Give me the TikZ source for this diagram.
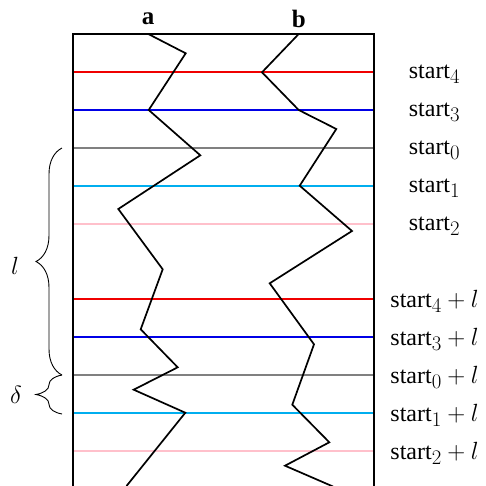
\documentclass[tikz,border=0pt]{standalone}
\usepackage{fontspec}
\setmainfont{Liberation Serif}
\usetikzlibrary{decorations.pathreplacing}
\definecolor{skyc}{RGB}{0,174,239}
\definecolor{pinkc}{RGB}{255,192,203}
\definecolor{grayc}{RGB}{128,128,128}
\definecolor{bluec}{RGB}{0,0,230}
\definecolor{redc}{RGB}{240,0,0}
\newcommand{\bigmath}[1]{{\fontsize{31}{34}\selectfont$#1$}}
\tikzset{
  frame/.style={line width=1.8pt, black},
  hline/.style={line width=1.8pt},
  walk/.style={line width=1.7pt, black, line join=miter},
  lab/.style={font=\fontsize{24}{28}\selectfont, inner sep=0pt},
  brc/.style={decorate, decoration={brace, amplitude=26pt}, line width=0.9pt},
}
\begin{document}
\begin{tikzpicture}[x=1pt,y=-1pt]
\useasboundingbox (0,0) rectangle (486,485);
% frame
\coordinate (tl) at (72.7,34);
\coordinate (tr) at (374.3,34);
\coordinate (bl) at (72.7,486);
\coordinate (br) at (374.3,486);
% horizontal lines
\foreach \y/\c/\n in {72.3/redc/r1, 110/bluec/b1, 147.7/grayc/g1, 185.7/skyc/c1, 223.7/pinkc/p1,
                      299.3/redc/r2, 337.3/bluec/b2, 375/grayc/g2, 412.7/skyc/c2, 450.7/pinkc/p2}{
  \coordinate (\n L) at (72.7,\y);
  \coordinate (\n R) at (374.3,\y);
  \draw[hline, \c] (\n L) -- (\n R);
}
\draw[frame] (bl) -- (tl) -- (tr) -- (br);
% walk a
\draw[walk] (148.3,34) -- (185.7,53.3) -- (148.7,110) -- (200.3,155.3) -- (118.3,209)
  -- (162.7,269.3) -- (140.7,329.3) -- (177.7,367.3) -- (133.7,389.7) -- (185.3,412.7) -- (126.5,486);
% walk b
\draw[walk] (298.7,34) -- (262,72.3) -- (298.7,110) -- (336.3,129) -- (299.7,185.7) -- (352,231)
  -- (269.7,283.3) -- (314,344.3) -- (292.3,404.7) -- (329.3,442.3) -- (285,465.7) -- (333,486.5);
% column labels
\node[lab, font=\fontsize{25}{28}\selectfont\bfseries] (la) at (148,19) {a};
\node[lab, font=\fontsize{25}{28}\selectfont\bfseries] (lb) at (298.7,19) {b};
% right labels
\node[lab] (s4) at (434.5,74) {start\bigmath{_4}};
\node[lab] (s3) at (434.5,112) {start\bigmath{_3}};
\node[lab] (s0) at (434.5,150) {start\bigmath{_0}};
\node[lab] (s1) at (434.5,188) {start\bigmath{_1}};
\node[lab] (s2) at (434.5,226) {start\bigmath{_2}};
\node[lab] (t4) at (434.5,301) {start\bigmath{_4+l}};
\node[lab] (t3) at (434.5,339) {start\bigmath{_3+l}};
\node[lab] (t0) at (434.5,377) {start\bigmath{_0+l}};
\node[lab] (t1) at (434.5,415) {start\bigmath{_1+l}};
\node[lab] (t2) at (434.5,453) {start\bigmath{_2+l}};
% braces
\coordinate (bA) at (62,375);
\coordinate (bB) at (62,148);
\coordinate (dA) at (62,414);
\coordinate (dB) at (62,375);
\draw[brc] (bA) -- (bB);
\draw[brc] (dA) -- (dB);
\node[lab, font=\fontsize{25}{28}\selectfont] (ll) at (15,266) {$l$};
\node[lab, font=\fontsize{25}{28}\selectfont] (dd) at (16,395) {$\delta$};
\end{tikzpicture}
\end{document}
